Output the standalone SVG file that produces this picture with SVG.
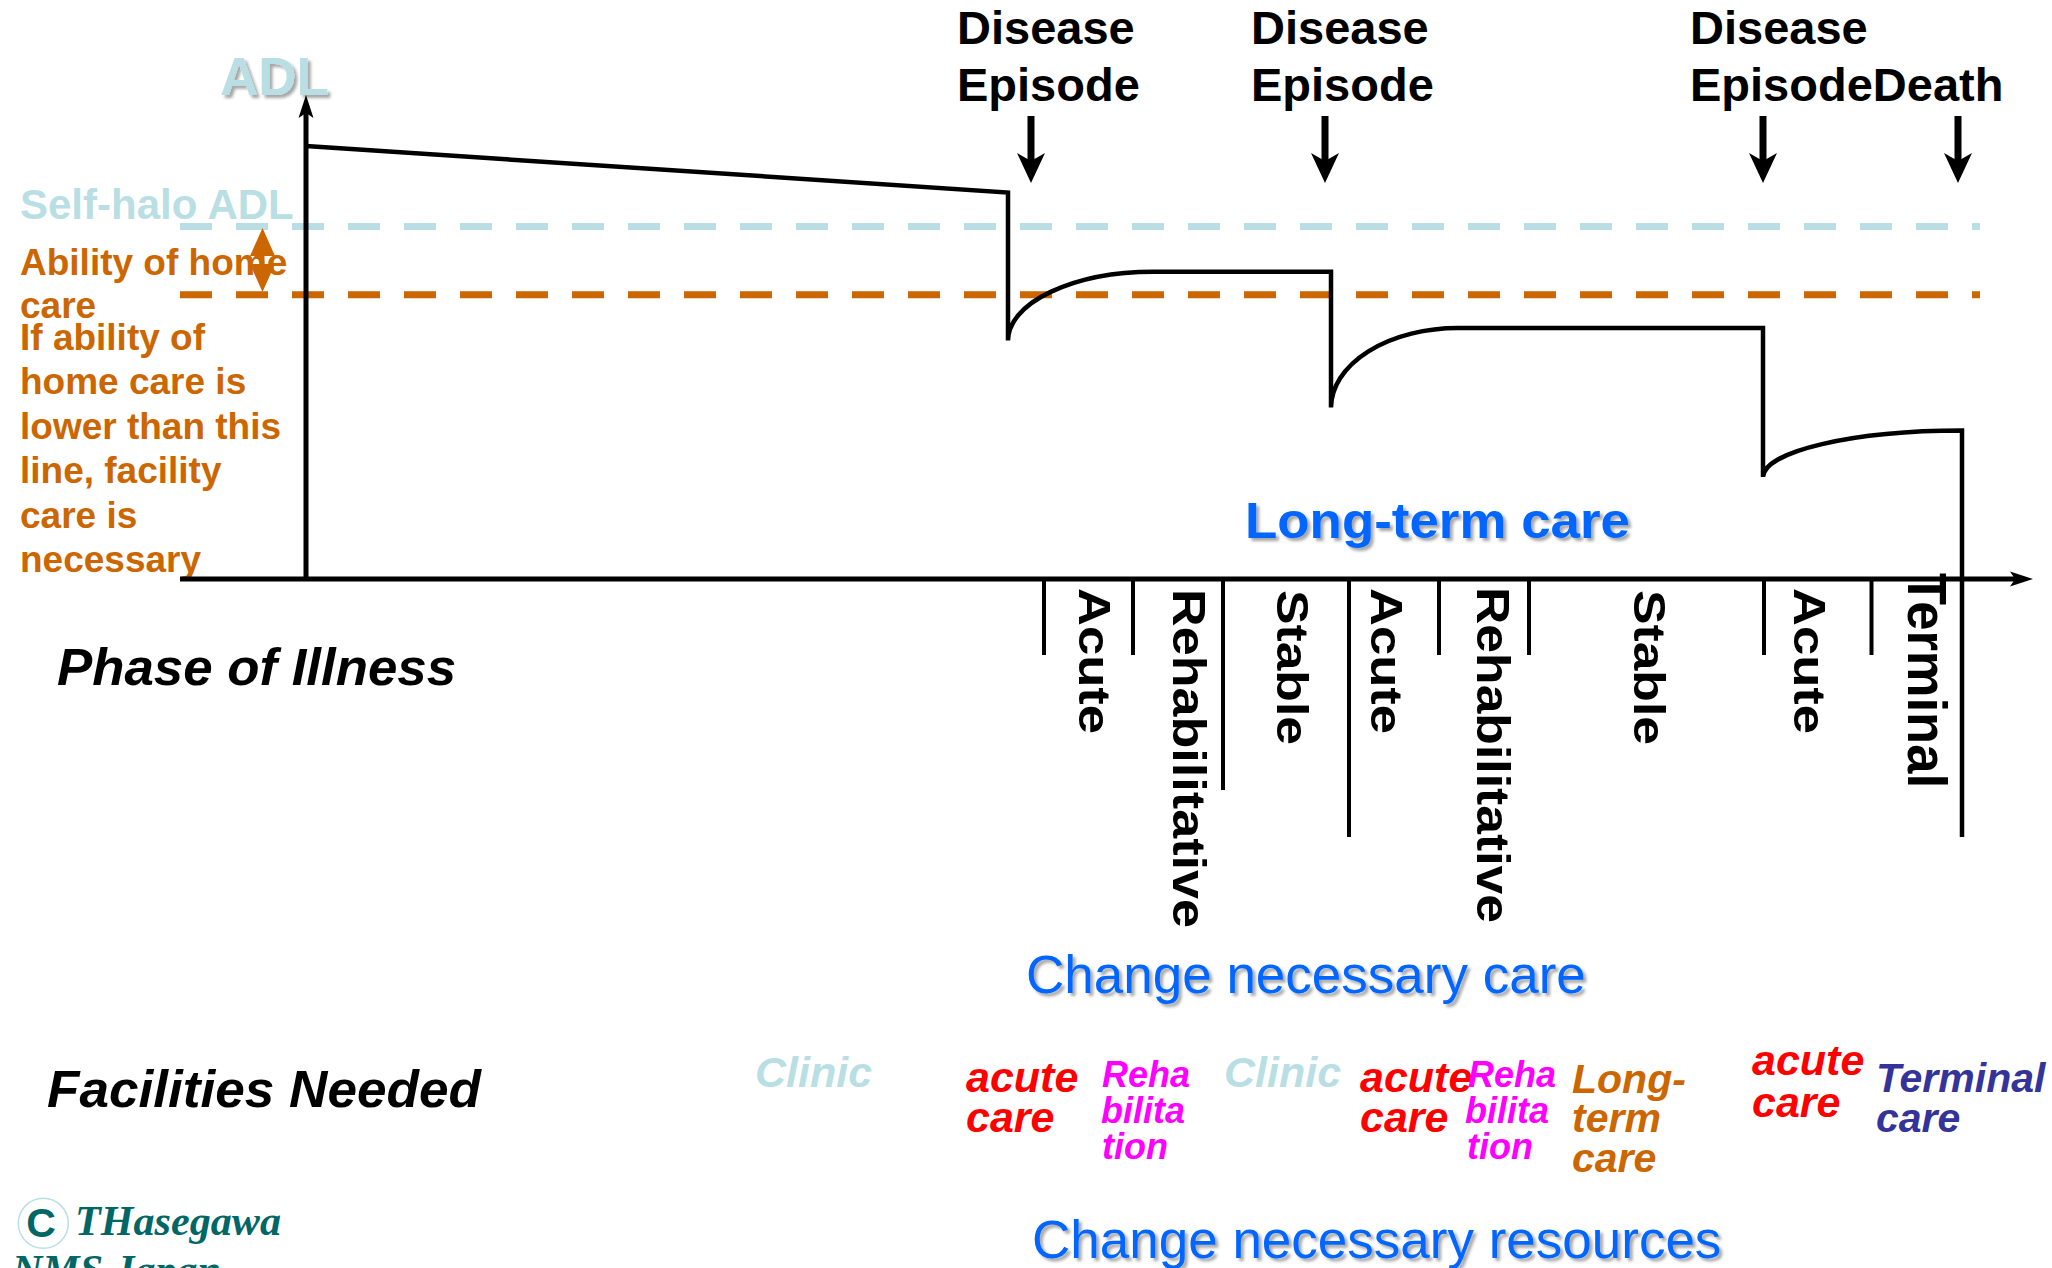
<svg xmlns="http://www.w3.org/2000/svg" xmlns:xlink="http://www.w3.org/1999/xlink" width="2052" height="1268" viewBox="0 0 2052 1268">
<style>
text{font-family:"Liberation Sans",Arial,sans-serif;}
.b{font-weight:bold;}
.bi{font-weight:bold;font-style:italic;}
.lb{fill:#B9DFE4;}
.or{fill:#CC6600;}
.blue{fill:#0066FF;}
.red{fill:#FF0000;}
.mag{fill:#FF00FF;}
.navy{fill:#333399;}
.teal{fill:#006666;}
.ax{stroke:#000;stroke-width:5;fill:none;}
.tick{stroke:#000;stroke-width:4;fill:none;}
.curve{stroke:#000;stroke-width:4.5;fill:none;stroke-linejoin:miter;}
.dash{stroke-width:7;stroke-dasharray:32 24;fill:none;}
.ev{stroke:#000;stroke-width:7;fill:none;}
.rot{font-weight:bold;fill:#000;}
.serif{font-family:"Liberation Serif","Times New Roman",serif;font-style:italic;font-weight:bold;}
</style>
<defs>
<filter id="sh" x="-10%" y="-20%" width="130%" height="160%">
<feDropShadow dx="3" dy="3" stdDeviation="1.5" flood-color="#000" flood-opacity="0.35"/>
</filter>
<marker id="axArrow" markerUnits="userSpaceOnUse" orient="auto" viewBox="-6 -9 26 18" refX="0" refY="0" markerWidth="26" markerHeight="18">
<path d="M18,0 L-5,-7.5 L0,0 L-5,7.5 Z" fill="#000"/>
</marker>
<marker id="evArrow" markerUnits="userSpaceOnUse" orient="auto" viewBox="-10 -16 34 32" refX="0" refY="0" markerWidth="34" markerHeight="32">
<path d="M22,0 L-8,-14 L0,0 L-8,14 Z" fill="#000"/>
</marker>
</defs>
<rect width="2052" height="1268" fill="#fff"/>

<g id="reference-lines">
<line class="dash" x1="180" y1="226.5" x2="1980" y2="226.5" stroke="#B9DFE4"/>
<line class="dash" x1="180" y1="294.7" x2="1980" y2="294.7" stroke="#CC6600"/>
</g>

<g id="left-labels">
<text class="b lb" x="20" y="219" font-size="42">Self-halo ADL</text>
<text class="b or" font-size="37"><tspan x="20" y="275">Ability of home</tspan><tspan x="20" y="318">care</tspan></text>
<text class="b or" font-size="37"><tspan x="20" y="350">If ability of</tspan><tspan x="20" y="394.4">home care is</tspan><tspan x="20" y="438.8">lower than this</tspan><tspan x="20" y="483.2">line, facility</tspan><tspan x="20" y="527.6">care is</tspan><tspan x="20" y="572">necessary</tspan></text>
</g>

<g id="home-care-range">
<path d="M262.5,228 L275,256 L264.5,256 L264.5,264 L275,264 L262.5,292 L250,264 L260.5,264 L260.5,256 L250,256 Z" fill="#CC6600"/>
</g>

<g id="axes">
<line class="ax" x1="306" y1="579" x2="306" y2="113" marker-end="url(#axArrow)"/>
<line class="ax" x1="180" y1="579" x2="2015" y2="579" marker-end="url(#axArrow)"/>
<text class="b lb" x="220" y="95" font-size="53" filter="url(#sh)">ADL</text>
</g>

<g id="adl-curve">
<path class="curve" d="M306,146 L1008,192.5 L1008,340.6 A145.5,69 0 0 1 1153.5,271.7 L1331,271.7 L1331,407.6 A127,80 0 0 1 1458,328 L1763,328 L1763,477 A199,47 0 0 1 1962,430.5 L1962,837"/>
</g>

<g id="episodes">
<text class="b" font-size="47"><tspan x="957" y="44">Disease</tspan><tspan x="957" y="100.5">Episode</tspan></text>
<text class="b" font-size="47"><tspan x="1251" y="44">Disease</tspan><tspan x="1251" y="100.5">Episode</tspan></text>
<text class="b" font-size="47"><tspan x="1690" y="44">Disease</tspan><tspan x="1690" y="100.5">EpisodeDeath</tspan></text>
<line class="ev" x1="1031" y1="116" x2="1031" y2="161" marker-end="url(#evArrow)"/>
<line class="ev" x1="1325" y1="116" x2="1325" y2="161" marker-end="url(#evArrow)"/>
<line class="ev" x1="1763" y1="116" x2="1763" y2="161" marker-end="url(#evArrow)"/>
<line class="ev" x1="1958" y1="116" x2="1958" y2="161" marker-end="url(#evArrow)"/>
</g>

<g id="long-term-label">
<text class="b blue" x="1245" y="537.7" font-size="50" textLength="385" lengthAdjust="spacingAndGlyphs" filter="url(#sh)">Long-term care</text>
</g>

<g id="phase-ticks">
<line class="tick" x1="1044" y1="577" x2="1044" y2="655"/>
<line class="tick" x1="1133" y1="577" x2="1133" y2="655"/>
<line class="tick" x1="1223" y1="577" x2="1223" y2="790"/>
<line class="tick" x1="1349" y1="577" x2="1349" y2="837"/>
<line class="tick" x1="1439" y1="577" x2="1439" y2="655"/>
<line class="tick" x1="1529" y1="577" x2="1529" y2="655"/>
<line class="tick" x1="1764" y1="577" x2="1764" y2="655"/>
<line class="tick" x1="1871.5" y1="577" x2="1871.5" y2="655"/>
</g>

<g id="phase-labels">
<text class="rot" transform="translate(1079,588) rotate(90)" font-size="45" textLength="146" lengthAdjust="spacingAndGlyphs">Acute</text>
<text class="rot" transform="translate(1173,589) rotate(90)" font-size="47" textLength="339" lengthAdjust="spacingAndGlyphs">Rehabilitative</text>
<text class="rot" transform="translate(1277,590) rotate(90)" font-size="45" textLength="155" lengthAdjust="spacingAndGlyphs">Stable</text>
<text class="rot" transform="translate(1371,588) rotate(90)" font-size="45" textLength="146" lengthAdjust="spacingAndGlyphs">Acute</text>
<text class="rot" transform="translate(1477,587) rotate(90)" font-size="47" textLength="336" lengthAdjust="spacingAndGlyphs">Rehabilitative</text>
<text class="rot" transform="translate(1634,590) rotate(90)" font-size="45" textLength="155" lengthAdjust="spacingAndGlyphs">Stable</text>
<text class="rot" transform="translate(1794,588) rotate(90)" font-size="45" textLength="146" lengthAdjust="spacingAndGlyphs">Acute</text>
<text class="rot" transform="translate(1908,573) rotate(90)" font-size="55" textLength="215" lengthAdjust="spacingAndGlyphs">Terminal</text>
</g>

<g id="row-titles">
<text class="bi" x="57" y="685" font-size="52" textLength="399" lengthAdjust="spacingAndGlyphs">Phase of Illness</text>
<text class="bi" x="47" y="1107" font-size="52" textLength="434" lengthAdjust="spacingAndGlyphs">Facilities Needed</text>
</g>

<g id="change-care">
<text class="blue" x="1026" y="993" font-size="53" filter="url(#sh)">Change necessary care</text>
</g>

<g id="facilities">
<text class="bi lb" x="755" y="1087" font-size="43">Clinic</text>
<text class="bi red" font-size="43"><tspan x="966" y="1092">acute</tspan><tspan x="966" y="1132">care</tspan></text>
<text class="bi mag" font-size="36"><tspan x="1102" y="1087">Reha</tspan><tspan x="1101" y="1123">bilita</tspan><tspan x="1102" y="1159">tion</tspan></text>
<text class="bi lb" x="1224" y="1087" font-size="43">Clinic</text>
<text class="bi red" font-size="43"><tspan x="1360" y="1092">acute</tspan><tspan x="1360" y="1132">care</tspan></text>
<text class="bi mag" font-size="36"><tspan x="1468" y="1087">Reha</tspan><tspan x="1465" y="1123">bilita</tspan><tspan x="1467" y="1159">tion</tspan></text>
<text class="bi or" font-size="41"><tspan x="1572" y="1093">Long-</tspan><tspan x="1572" y="1132">term</tspan><tspan x="1572" y="1172">care</tspan></text>
<text class="bi red" font-size="43"><tspan x="1752" y="1075">acute</tspan><tspan x="1752" y="1117">care</tspan></text>
<text class="bi navy" font-size="41"><tspan x="1876" y="1092">Terminal</tspan><tspan x="1876" y="1132">care</tspan></text>
</g>

<g id="change-resources">
<text class="blue" x="1032" y="1258" font-size="53" filter="url(#sh)">Change necessary resources</text>
</g>

<g id="copyright">
<circle cx="43.3" cy="1223.3" r="25" fill="none" stroke="#B9DFE4" stroke-width="1.5"/>
<text class="b teal" x="41" y="1237" font-size="41" text-anchor="middle">C</text>
<text class="teal serif" x="75" y="1235" font-size="42" textLength="206" lengthAdjust="spacingAndGlyphs">THasegawa</text>
<text class="teal serif" x="12" y="1284" font-size="42">NMS Japan</text>
</g>
</svg>
